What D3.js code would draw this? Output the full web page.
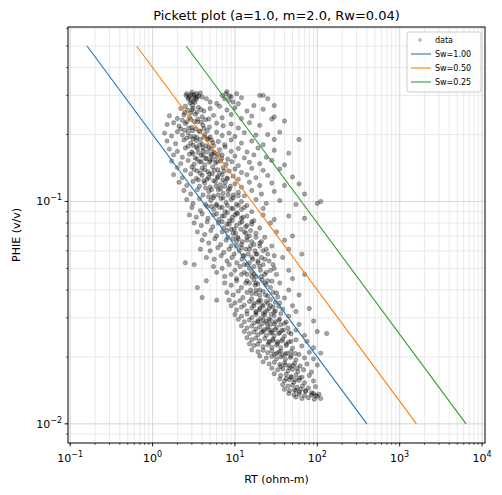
<!DOCTYPE html>
<html><head><meta charset="utf-8">
<script src="https://cdn.jsdelivr.net/npm/d3@7"></script>
<style>body{margin:0;background:#fff}text{font-family:"DejaVu Sans",sans-serif}</style>
</head><body><svg id="c" width="502" height="495"></svg>
<script>
const params = {a:1.0, m:2.0, Rw:0.04};
const swValues = [1.00, 0.50, 0.25];
const lineColors = ["#1f77b4","#ff7f0e","#2ca02c"];
const phiRange = [0.01, 0.5];
const xTicks = [0.1,1,10,100,1000,10000];
const xTickLabels = ["-1","0","1","2","3","4"];
const yTicks = [0.01,0.1];
const yTickLabels = ["-2","-1"];
// [RT, PHIE]
const samples = [
[2.6,.305],[2.8,.298],[3.0,.31],[3.2,.302],[3.5,.295],[3.8,.308],[7,.3],[8,.312],[9,.296],[10.5,.305],[2.9,.285],[3.3,.292],
[2.7,.29],[3.1,.282],[3.4,.288],[4,.295],[4.5,.29],[7.5,.29],[8.5,.285],[12,.293],[20,.3],[25,.29],[5,.28],[6,.276],[9.5,.28],[11,.275],[17,.27],[30,.27],[22,.3],
[2.2,.262],[2.5,.268],[3,.258],[3.6,.265],[4.2,.255],[5,.262],[6.5,.268],[8,.258],[10,.264],[14,.255],[22,.26],[30,.24],
[1.6,.243],[2,.236],[2.4,.245],[2.8,.238],[3.3,.247],[4,.24],[4.8,.235],[5.5,.244],[7,.238],[9,.246],[12,.236],[16,.242],[28,.235],[40,.23],
[1.5,.222],[1.8,.226],[2.1,.218],[2.5,.224],[3,.215],[3.5,.228],[4.1,.22],[4.9,.216],[6,.225],[7.2,.219],[9,.223],[11,.214],[15,.226],[20,.22],
[1.4,.203],[1.7,.197],[2,.206],[2.3,.199],[2.7,.204],[3.2,.196],[3.7,.207],[4.3,.2],[5,.195],[6,.205],[7,.198],[8.5,.203],[10,.196],[13,.204],[18,.199],[25,.2],[35,.205],
[1.5,.187],[1.9,.182],[2.4,.189],[2.9,.183],[3.4,.188],[4,.181],[4.6,.19],[5.4,.184],[6.3,.186],[7.5,.18],[9,.189],[12,.183],[16,.187],[22,.18],[30,.19],[60,.19],
[1.6,.172],[2,.168],[2.5,.174],[3,.167],[3.5,.173],[4.1,.169],[4.8,.175],[5.6,.166],[6.5,.171],[7.6,.176],[9,.168],[11,.173],[14,.167],[19,.174],[30,.17],[45,.165],
[1.8,.162],[2.3,.158],[2.8,.163],[3.3,.157],[3.9,.161],[4.5,.156],[5.2,.163],[6,.159],[7,.162],[8.2,.155],[10,.16],[13,.157],[17,.162],[24,.158],
[1.7,.152],[2.2,.148],[2.7,.153],[3.2,.147],[3.7,.151],[4.3,.146],[5,.153],[5.8,.149],[6.7,.152],[7.8,.147],[9.2,.151],[11,.145],[15,.15],[20,.148],[28,.153],[40,.146],
[2,.142],[2.5,.138],[3,.143],[3.5,.137],[4,.141],[4.7,.136],[5.4,.143],[6.2,.139],[7.2,.142],[8.5,.137],[10,.14],[12,.135],[16,.141],[22,.138],[35,.14],
[1.8,.132],[2.3,.128],[2.9,.133],[3.4,.127],[4,.131],[4.6,.126],[5.3,.133],[6.1,.129],[7,.132],[8,.127],[9.5,.13],[11,.126],[14,.132],[18,.128],[25,.131],[50,.129],
[2.1,.122],[2.6,.118],[3.1,.123],[3.7,.117],[4.3,.121],[5,.116],[5.8,.123],[6.6,.119],[7.6,.122],[8.8,.117],[10,.12],[12,.116],[15,.122],[20,.118],[28,.121],[40,.118],[60,.12],
[2.4,.112],[2.9,.108],[3.5,.113],[4.1,.107],[4.8,.111],[5.5,.106],[6.3,.113],[7.2,.109],[8.3,.112],[9.6,.107],[11,.11],[13,.106],[16,.112],[21,.108],[30,.111],[70,.108],
[2.6,.102],[3.1,.098],[3.7,.103],[4.4,.097],[5.1,.101],[5.9,.096],[6.8,.103],[7.8,.099],[9,.102],[10.5,.097],[12,.1],[14,.096],[18,.102],[24,.098],[35,.101],[55,.097],[100,.098],[110,.1],
[3,.094],[3.8,.091],[4.6,.095],[5.5,.092],[6.5,.094],[7.6,.09],[9,.093],[10.5,.089],[13,.094],[16,.09],[22,.093],
[2.8,.087],[3.4,.085],[4,.088],[4.7,.084],[5.5,.087],[6.4,.083],[7.4,.086],[8.6,.082],[10,.087],[12,.084],[14,.086],[17,.082],[22,.087],[30,.083],[45,.086],[70,.084],
[3.2,.08],[3.9,.078],[4.6,.081],[5.4,.077],[6.3,.08],[7.3,.076],[8.5,.079],[9.8,.075],[11.5,.08],[13.5,.077],[16,.079],[20,.076],[27,.08],
[3.5,.073],[4.3,.071],[5.1,.074],[6,.07],[7,.073],[8.2,.069],[9.5,.072],[11,.068],[13,.073],[15,.07],[18,.072],[23,.069],[32,.073],[50,.07],
[4,.067],[4.8,.065],[5.7,.068],[6.7,.064],[7.8,.067],[9,.063],[10.5,.066],[12,.062],[14,.067],[17,.064],[21,.066],[28,.063],[40,.067],
[3.8,.061],[5,.06],[6.2,.062],[7.3,.059],[8.5,.061],[9.8,.058],[11.3,.06],[13,.057],[15,.061],[18,.058],[22,.06],[30,.057],[45,.061],[65,.058],
[4.5,.056],[5.6,.055],[6.8,.057],[8,.054],[9.2,.056],[10.6,.053],[12.2,.055],[14,.052],[16,.056],[19,.053],[23,.055],[29,.052],[38,.056],
[5.5,.051],[7,.05],[8.5,.052],[10,.049],[11.5,.051],[13,.048],[15,.05],[17,.047],[20,.051],[24,.048],[30,.05],[45,.049],
[2.5,.053],[3.2,.052],[6,.048],[7.5,.046],[9,.047],[10.5,.045],[12,.047],[14,.044],[16,.046],[18,.043],[21,.046],[25,.044],[32,.047],[50,.045],[70,.047],
[4.5,.044],[7.5,.043],[9,.042],[10.5,.044],[12,.041],[13.5,.043],[15.5,.04],[17.5,.042],[20,.04],[23,.043],[27,.041],[35,.043],[45,.04],
[8,.039],[9.5,.038],[11,.0395],[12.5,.037],[14,.039],[16,.0365],[18,.0385],[20.5,.036],[23.5,.038],[27,.0362],[32,.0388],[40,.0368],[60,.038],
[3.5,.041],[8.5,.036],[10,.035],[11.5,.0358],[13,.0342],[15,.0355],[17,.034],[19,.0352],[22,.0338],[25,.0348],[29,.0335],[35,.035],[50,.034],
[9,.034],[10.5,.0325],[12,.0335],[14,.0322],[16,.0332],[18,.032],[20,.0331],[23,.0318],[26,.033],[30,.0319],[38,.0328],[55,.032],[80,.033],
[6,.036],[10,.031],[12,.0305],[14,.0312],[16,.0301],[18,.031],[20.5,.0298],[23,.0308],[26,.0297],[30,.0306],[35,.0296],[45,.0305],
[4,.037],[11,.0295],[13,.0288],[15,.0293],[17,.0284],[19,.0291],[21.5,.0282],[24,.0289],[27,.028],[31,.0288],[36,.0279],[42,.0287],[60,.028],[90,.029],
[12,.0276],[14,.027],[16,.0275],[18,.0267],[20,.0273],[22.5,.0265],[25,.0272],[28,.0264],[32,.0271],[37,.0263],[44,.027],[55,.0264],
[13,.026],[15,.0255],[17,.0259],[19,.0252],[21,.0258],[24,.025],[27,.0256],[30,.0249],[34,.0255],[40,.0248],[48,.0254],[70,.025],[100,.026],[130,.0255],
[14,.0244],[16,.0239],[18,.0243],[20,.0236],[23,.0242],[26,.0235],[29,.0241],[33,.0234],[38,.024],[45,.0233],[55,.0239],[75,.0235],
[15,.0229],[17,.0225],[19,.0228],[22,.0222],[25,.0227],[28,.0221],[32,.0226],[36,.022],[42,.0225],[50,.0219],[65,.0224],[90,.022],
[16,.0215],[19,.0211],[22,.0214],[25,.0209],[28,.0213],[32,.0207],[36,.0212],[41,.0206],[48,.0211],[60,.0205],[80,.021],[110,.0208],
[20,.0202],[24,.0198],[28,.0201],[32,.0196],[36,.02],[41,.0195],[47,.0199],[55,.0194],[70,.0198],[90,.0196],
[22,.019],[26,.0186],[30,.0189],[35,.0185],[40,.0188],[46,.0183],[53,.0187],[62,.0182],[75,.0186],[100,.0184],
[28,.0178],[33,.0175],[38,.0177],[44,.0173],[50,.0176],[58,.0172],[68,.0175],[85,.0171],
[30,.0168],[36,.0165],[42,.0167],[48,.0163],[55,.0166],[65,.0162],[80,.0165],
[35,.0159],[40,.0156],[46,.0158],[52,.0154],[60,.0157],[70,.0153],[90,.0156],
[38,.015],[44,.0148],[50,.0149],[57,.0146],[66,.0148],[78,.0145],[95,.0147],
[40,.0143],[46,.0141],[53,.0142],[61,.0139],[72,.0141],[85,.0138],
[45,.0137],[52,.0135],[60,.0136],[70,.0134],[85,.0135],[100,.0133],[105,.0136],
[55,.0132],[65,.013],[78,.0131],[92,.0129],[110,.013]
];
// dense core of the cloud, [RT, PHIE]
const coreSamples = [
[2.55,.3],[2.75,.293],[2.95,.303],[3.15,.296],[3.4,.306],[3.65,.299],[2.85,.277],[3.05,.271],[3.25,.279],[7.8,.305],[8.6,.298],
[2.45,.251],[2.65,.257],[2.9,.25],[3.1,.262],[3.45,.252],[3.85,.259],[2.3,.232],[2.6,.228],[2.9,.234],[3.2,.229],[3.55,.235],[3.9,.227],[4.4,.233],
[2.2,.212],[2.45,.209],[2.75,.214],[3.05,.208],[3.35,.212],[3.75,.207],[4.2,.213],[4.6,.208],
[2.6,.193],[2.85,.196],[3.1,.191],[3.45,.194],[3.8,.19],[4.2,.195],[4.7,.192],[5.2,.189],
[2.7,.177],[3.1,.179],[3.4,.176],[3.75,.18],[4.1,.174],[4.5,.178],[5.1,.172],[5.5,.178],
[3.1,.164],[3.6,.166],[4.1,.162],[4.6,.167],[5.1,.16],[5.6,.165],[6.3,.163],
[3.45,.155],[3.9,.151],[4.4,.156],[4.9,.15],[5.4,.155],[6.1,.151],[6.9,.156],
[3.2,.139],[3.8,.134],[4.3,.139],[4.9,.133],[5.6,.138],[6.5,.134],[7.4,.137],
[3.6,.125],[4.2,.124],[4.8,.128],[5.5,.124],[6.2,.128],[7.1,.125],[8.1,.127],
[4.4,.115],[5.2,.113],[5.9,.117],[6.7,.114],[7.5,.117],[8.6,.114],
[4.8,.105],[5.5,.104],[6.3,.107],[7.2,.104],[8.3,.107],[9.5,.104],[11,.106],
[5.2,.095],[6,.097],[7,.094],[8.1,.096],[9.5,.093],[11,.096],[12,.092],
[6,.088],[7,.086],[8.1,.089],[9.3,.085],[10.8,.088],[12.5,.085],
[7,.081],[8,.079],[9.2,.082],[10.5,.078],[12.2,.081],[14,.078],[16,.081],
[8,.074],[9,.075],[10.2,.072],[11.8,.075],[13.6,.072],[15.5,.074],
[9.5,.068],[10.8,.069],[12.3,.066],[14,.069],[16,.066],[18,.069],[20,.065],
[10.5,.063],[12,.064],[13.6,.061],[15.5,.063],[17.5,.06],[20,.063],[24,.061],
[12.5,.057],[14.5,.058],[16.5,.055],[18.5,.058],[21,.056],[25,.058],
[13,.052],[15,.053],[17,.051],[19,.054],[22,.052],[26,.054],
[14,.047],[16,.048],[18,.046],[20.5,.049],[23,.047],[27,.049],
[15,.043],[17,.0445],[19,.0425],[21.5,.0445],[24,.0422],[28,.0438],
[16,.0385],[18,.0398],[20,.0378],[22,.0394],[25,.0376],[29,.039],[33,.0372],
[17,.0348],[19.5,.0358],[21.5,.0343],[24,.0355],[27,.034],[31,.0352],[34,.0338],
[18,.0316],[20,.0326],[22,.0312],[24.5,.0323],[27.5,.0311],[31,.0322],[36,.0313],
[19,.0287],[22,.0294],[24.5,.0283],[27,.0293],[30,.0282],[34,.0292],[40,.0283],
[22,.026],[25,.0266],[28,.0258],[31,.0265],[35,.0257],[39,.0264],[45,.0258],
[26,.0232],[29,.0237],[33,.023],[37,.0236],[42,.0229],[48,.0235],
[30,.0205],[34,.021],[38,.0203],[43,.0208],[48,.0202],[54,.0207],
[36,.0181],[41,.0184],[46,.0179],[51,.0183],[57,.0178],
[42,.016],[48,.0162],[54,.0158],[61,.0161],
[55,.0141],[63,.0143],[72,.014],[90,.0137],[95,.0134]
];
const allSamples = samples.concat(coreSamples);

const svg = d3.select("#c");
const L=68,R=485,T=27,B=443;
const x = d3.scaleLog().domain([0.094,10870]).range([L,R]);
const y = d3.scaleLog().domain([0.0082,0.609]).range([B,T]);

const g = svg.append("g");
const xMinor=[], yMinor=[];
for(let e=-2;e<=4;e++) for(let k=1;k<10;k++){const v=k*Math.pow(10,e); if(v>=0.094&&v<=10870) xMinor.push(v);}
for(let e=-3;e<=0;e++) for(let k=1;k<10;k++){const v=k*Math.pow(10,e); if(v>=0.0082&&v<=0.609) yMinor.push(v);}
xMinor.forEach(v=>g.append("line").attr("x1",x(v)).attr("x2",x(v)).attr("y1",T).attr("y2",B).attr("stroke","#e3e3e3").attr("stroke-width",0.8));
yMinor.forEach(v=>g.append("line").attr("y1",y(v)).attr("y2",y(v)).attr("x1",L).attr("x2",R).attr("stroke","#e3e3e3").attr("stroke-width",0.8));
xTicks.forEach(v=>g.append("line").attr("x1",x(v)).attr("x2",x(v)).attr("y1",T).attr("y2",B).attr("stroke","#d6d6d6").attr("stroke-width",0.8));
yTicks.forEach(v=>g.append("line").attr("y1",y(v)).attr("y2",y(v)).attr("x1",L).attr("x2",R).attr("stroke","#d6d6d6").attr("stroke-width",0.8));

svg.append("g").selectAll("circle").data(allSamples).join("circle")
 .attr("cx",d=>x(d[0])).attr("cy",d=>y(d[1])).attr("r",2.2)
 .attr("fill","#000").attr("fill-opacity",0.35).attr("stroke","#000").attr("stroke-opacity",0.35).attr("stroke-width",0.6);

const rtAt=(phi,sw)=>params.a*params.Rw/(Math.pow(phi,params.m)*Math.pow(sw,2));
swValues.forEach((sw,i)=>{
  const pts=phiRange.map(p=>[rtAt(p,sw),p]);
  svg.append("path").attr("d",d3.line().x(d=>x(d[0])).y(d=>y(d[1]))(pts))
   .attr("stroke",lineColors[i]).attr("stroke-width",1.1).attr("fill","none");
});

svg.append("rect").attr("x",L).attr("y",T).attr("width",R-L).attr("height",B-T).attr("fill","none").attr("stroke","#000").attr("stroke-width",1);

const ax=svg.append("g");
xMinor.forEach(v=>ax.append("line").attr("x1",x(v)).attr("x2",x(v)).attr("y1",B).attr("y2",B+2).attr("stroke","#000").attr("stroke-width",0.6));
yMinor.forEach(v=>ax.append("line").attr("y1",y(v)).attr("y2",y(v)).attr("x1",L-2).attr("x2",L).attr("stroke","#000").attr("stroke-width",0.6));
xTicks.forEach((v,i)=>{
  ax.append("line").attr("x1",x(v)).attr("x2",x(v)).attr("y1",B).attr("y2",B+3.5).attr("stroke","#000").attr("stroke-width",0.8);
  const t=ax.append("text").attr("x",x(v)).attr("y",B+19).attr("text-anchor","middle").attr("font-size",11);
  t.append("tspan").text("10");
  t.append("tspan").attr("dy",-5).attr("font-size",8).text(xTickLabels[i].replace("-","\u2212"));
});
yTicks.forEach((v,i)=>{
  ax.append("line").attr("y1",y(v)).attr("y2",y(v)).attr("x1",L-3.5).attr("x2",L).attr("stroke","#000").attr("stroke-width",0.8);
  const t=ax.append("text").attr("x",L-6).attr("y",y(v)+4).attr("text-anchor","end").attr("font-size",11);
  t.append("tspan").text("10");
  t.append("tspan").attr("dy",-5).attr("font-size",8).text(yTickLabels[i].replace("-","\u2212"));
});

svg.append("text").attr("x",(L+R)/2).attr("y",20).attr("text-anchor","middle").attr("font-size",13).text("Pickett plot (a=1.0, m=2.0, Rw=0.04)");
svg.append("text").attr("x",(L+R)/2).attr("y",483).attr("text-anchor","middle").attr("font-size",11).text("RT (ohm-m)");
svg.append("text").attr("transform",`translate(20,${(T+B)/2}) rotate(-90)`).attr("text-anchor","middle").attr("font-size",11).text("PHIE (v/v)");

const lg=svg.append("g");
lg.append("rect").attr("x",407).attr("y",32).attr("width",74).attr("height",60).attr("rx",2).attr("fill","#fff").attr("fill-opacity",0.8).attr("stroke","#ccc");
lg.append("circle").attr("cx",420).attr("cy",40).attr("r",1.8).attr("fill","#000").attr("fill-opacity",0.3);
lg.append("text").attr("x",435).attr("y",43).attr("font-size",8).text("data");
swValues.forEach((sw,i)=>{
  const yy=54+i*14;
  lg.append("line").attr("x1",411).attr("x2",431).attr("y1",yy).attr("y2",yy).attr("stroke",lineColors[i]).attr("stroke-width",1.1);
  lg.append("text").attr("x",435).attr("y",yy+3).attr("font-size",8).text("Sw="+sw.toFixed(2));
});
</script></body></html>
